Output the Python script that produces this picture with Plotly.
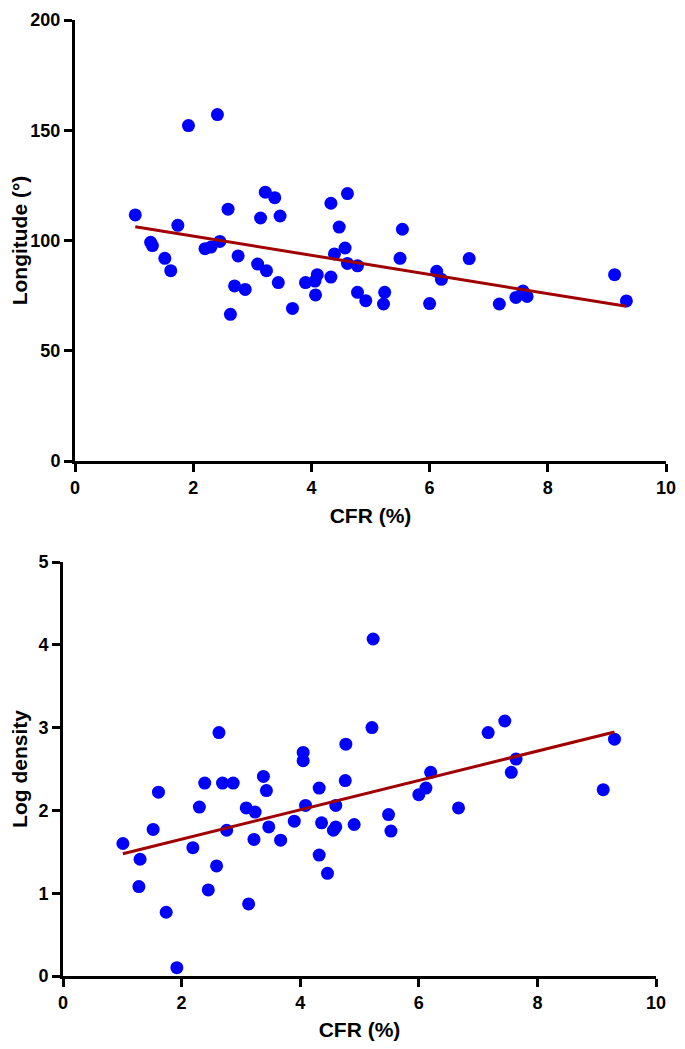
import numpy as np
import plotly.graph_objects as go

# Top panel: CFR (%) vs Longitude (°)
cfr_top = [1.02, 1.28, 1.31, 1.52, 1.62, 1.74, 1.92, 2.20, 2.30, 2.41, 2.45, 2.59, 2.63,
           2.70, 2.76, 2.88, 3.09, 3.14, 3.22, 3.24, 3.38, 3.44, 3.47, 3.68, 3.90, 4.06,
           4.07, 4.10, 4.33, 4.33, 4.39, 4.47, 4.57, 4.61, 4.61, 4.78, 4.78, 4.92, 5.22,
           5.24, 5.50, 5.54, 6.00, 6.12, 6.20, 6.67, 7.18, 7.46, 7.58, 7.65, 9.13, 9.33]
longitude = [111.6, 99.2, 97.7, 91.9, 86.3, 106.9, 152.1, 96.3, 97.0, 157.1, 99.6, 114.2, 66.5,
             79.4, 93.0, 77.8, 89.3, 110.2, 121.9, 86.3, 119.4, 80.9, 111.1, 69.2, 80.9, 81.6,
             75.3, 84.5, 83.4, 116.9, 93.9, 106.1, 96.6, 121.3, 89.6, 88.5, 76.5, 72.7, 71.2,
             76.5, 91.9, 105.1, 71.4, 86.0, 82.4, 91.8, 71.2, 74.2, 77.1, 74.6, 84.5, 72.6]

# Bottom panel: CFR (%) vs Log density
cfr_bottom = [1.01, 1.28, 1.30, 1.52, 1.61, 1.74, 1.92, 2.19, 2.30, 2.39, 2.45, 2.59, 2.63,
              2.69, 2.76, 2.87, 3.09, 3.13, 3.22, 3.24, 3.38, 3.43, 3.47, 3.67, 3.90, 4.05,
              4.05, 4.09, 4.32, 4.32, 4.36, 4.46, 4.56, 4.60, 4.60, 4.76, 4.77, 4.91, 5.21,
              5.23, 5.49, 5.53, 6.00, 6.12, 6.20, 6.67, 7.17, 7.45, 7.56, 7.64, 9.11, 9.30]
log_density = [1.60, 1.08, 1.41, 1.77, 2.22, 0.77, 0.10, 1.55, 2.04, 2.33, 1.04, 1.33, 2.94,
               2.33, 1.76, 2.33, 2.03, 0.87, 1.65, 1.98, 2.41, 2.24, 1.80, 1.64, 1.87, 2.70,
               2.60, 2.06, 2.27, 1.46, 1.85, 1.24, 1.76, 1.80, 2.06, 2.36, 2.80, 1.83, 3.00,
               4.07, 1.95, 1.75, 2.19, 2.27, 2.46, 2.03, 2.94, 3.08, 2.46, 2.62, 2.25, 2.86]

x_ticks = [0, 2, 4, 6, 8, 10]
top_y_ticks = [0, 50, 100, 150, 200]
bottom_y_ticks = [0, 1, 2, 3, 4, 5]

def fit_line(x, y):
    x = np.asarray(x); y = np.asarray(y)
    slope, intercept = np.polyfit(x, y, 1)
    xs = np.array([x.min(), x.max()])
    return xs, slope * xs + intercept

BLUE = "#0000FF"
RED = "#A00000"
FONT = "Liberation Sans, Arial, sans-serif"

fig = go.Figure()

fx, fy = fit_line(cfr_top, longitude)
fig.add_trace(go.Scatter(x=cfr_top, y=longitude, mode="markers", xaxis="x", yaxis="y",
                         marker=dict(color=BLUE, size=13, line=dict(width=0)), showlegend=False))
fig.add_trace(go.Scatter(x=fx, y=fy, mode="lines", xaxis="x", yaxis="y",
                         line=dict(color=RED, width=3), showlegend=False))

bx, by = fit_line(cfr_bottom, log_density)
fig.add_trace(go.Scatter(x=cfr_bottom, y=log_density, mode="markers", xaxis="x2", yaxis="y2",
                         marker=dict(color=BLUE, size=13, line=dict(width=0)), showlegend=False))
fig.add_trace(go.Scatter(x=bx, y=by, mode="lines", xaxis="x2", yaxis="y2",
                         line=dict(color=RED, width=3), showlegend=False))

# The page body has an 8px default margin, so lay out in (page px - 8)
OFF = 8
W, H = 685 - OFF, 1049 - 2 * OFF

def xd(a, b):
    return [(a - OFF) / W, (b - OFF) / W]

def yd(bottom_px, top_px):
    return [max(0.0, 1 - (bottom_px - OFF) / H), min(1.0, 1 - (top_px - OFF) / H)]

axis_common = dict(showline=True, linecolor="black", linewidth=3, ticks="outside",
                   ticklen=8, tickwidth=3, tickcolor="black", showgrid=False, zeroline=False,
                   automargin=False, ticklabeloverflow="allow",
                   tickfont=dict(family=FONT, size=18, color="black", weight="bold"))
title_font = dict(family=FONT, size=21, color="black", weight="bold")

fig.update_layout(
    width=W, height=H, margin=dict(l=0, r=0, t=0, b=0),
    paper_bgcolor="white", plot_bgcolor="white",
    xaxis=dict(domain=xd(75, 666), range=[0, 10], tickvals=x_ticks, anchor="y",
               title=dict(text="CFR (%)", font=title_font, standoff=12), **axis_common),
    yaxis=dict(domain=yd(461, 20), range=[0, 200], tickvals=top_y_ticks, anchor="x",
               title=dict(text="Longitude (°)", font=title_font, standoff=22), **axis_common),
    xaxis2=dict(domain=xd(63, 656), range=[0, 10], tickvals=x_ticks, anchor="y2",
                title=dict(text="CFR (%)", font=title_font, standoff=12), **axis_common),
    yaxis2=dict(domain=yd(976, 562), range=[0, 5], tickvals=bottom_y_ticks, anchor="x2",
                title=dict(text="Log density", font=title_font, standoff=7), **axis_common),
)

fig.write_html("out.html")
